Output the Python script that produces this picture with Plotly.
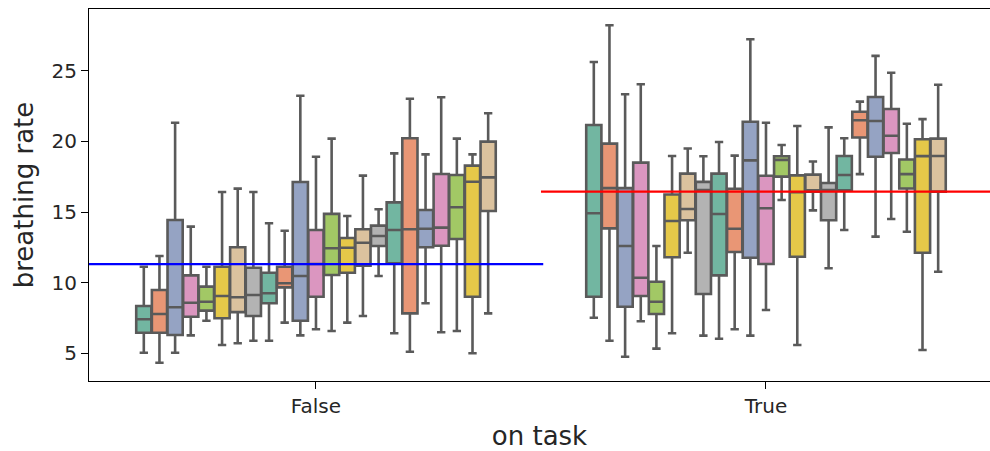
import colorsys
import plotly.graph_objects as go

categories = ["False", "True"]
participants = [str(i) for i in range(1, 24)]

# per-participant stats for on task == False
low_false = [5.04, 4.33, 5.04, 6.27, 7.31, 5.59, 5.71, 5.89, 5.89, 7.17, 6.27, 6.70,
             6.58, 7.17, 7.64, 10.47, 6.42, 5.11, 8.54, 6.49, 6.58, 5.00, 7.83]
q1_false = [6.46, 6.46, 6.30, 7.59, 8.02, 7.48, 7.92, 7.64, 8.54, 9.67, 7.31, 9.01,
            10.55, 10.71, 11.20, 12.60, 11.37, 7.83, 12.51, 12.62, 13.09, 9.01, 15.08]
med_false = [7.41, 7.78, 8.26, 8.58, 8.65, 9.06, 8.97, 9.13, 9.25, 9.96, 10.47, 11.32,
             12.44, 12.48, 12.83, 13.31, 13.73, 13.78, 13.82, 13.90, 15.34, 17.15, 17.46]
q3_false = [8.35, 9.48, 14.44, 10.52, 9.72, 11.13, 12.51, 11.06, 10.71, 11.13, 17.13, 13.73,
            14.87, 13.17, 13.78, 14.04, 15.69, 20.23, 15.15, 17.70, 17.63, 18.29, 19.99]
high_false = [11.13, 11.89, 21.33, 13.97, 11.13, 16.42, 16.66, 16.42, 14.21, 13.68, 23.24, 18.92,
              20.20, 14.72, 17.58, 15.20, 19.16, 23.03, 19.09, 23.13, 20.20, 19.09, 22.00]

# per-participant stats for on task == True
low_true = [7.52, 5.89, 4.76, 7.27, 5.33, 6.42, 12.12, 6.25, 6.03, 6.70, 6.25, 8.07,
            15.86, 5.59, 15.12, 11.02, 13.73, 17.69, 13.26, 14.51, 13.61, 5.23, 10.78]
q1_true = [9.01, 13.85, 8.30, 9.06, 7.78, 11.80, 14.42, 9.20, 10.52, 12.17, 11.77, 11.32,
           17.51, 11.84, 16.45, 14.42, 16.54, 20.28, 18.92, 19.18, 16.67, 12.12, 16.45]
med_true = [14.92, 16.70, 12.60, 10.35, 8.65, 14.37, 15.22, 16.56, 14.86, 13.82, 18.66, 15.27,
            18.70, 16.40, 16.55, 16.56, 17.63, 21.50, 21.45, 20.41, 17.69, 18.96, 18.97]
q3_true = [21.17, 19.85, 16.70, 18.50, 10.07, 16.25, 17.72, 17.14, 17.72, 16.65, 21.40, 17.57,
           18.95, 17.60, 17.65, 17.06, 18.97, 22.10, 23.15, 22.30, 18.72, 20.16, 20.20]
high_true = [25.63, 28.23, 23.34, 24.05, 12.60, 18.97, 19.50, 18.95, 19.96, 19.00, 27.24, 21.33,
             19.75, 21.10, 18.58, 21.00, 20.23, 22.82, 26.06, 24.87, 21.26, 21.58, 24.02]

mean_false = 11.32
mean_true = 16.45

y_ticks = [5, 10, 15, 20, 25]

set2 = ["#66c2a5", "#fc8d62", "#8da0cb", "#e78ac3", "#a6d854", "#ffd92f", "#e5c494", "#b3b3b3"]


def desaturate(hex_color, prop=0.75):
    r, g, b = (int(hex_color[i:i + 2], 16) / 255 for i in (1, 3, 5))
    h, l, s = colorsys.rgb_to_hls(r, g, b)
    r, g, b = colorsys.hls_to_rgb(h, l, s * prop)
    return "#%02x%02x%02x" % (round(r * 255), round(g * 255), round(b * 255))


palette = [desaturate(c) for c in set2]
edge = "#5a5a5a"

fig = go.Figure()
for i, p in enumerate(participants):
    fig.add_trace(go.Box(
        x=categories,
        q1=[q1_false[i], q1_true[i]],
        median=[med_false[i], med_true[i]],
        q3=[q3_false[i], q3_true[i]],
        lowerfence=[low_false[i], low_true[i]],
        upperfence=[high_false[i], high_true[i]],
        name=p,
        fillcolor=palette[i % len(palette)],
        line=dict(color=edge, width=2.6),
        whiskerwidth=0.55,
        boxpoints=False,
        hoverinfo="y",
        showlegend=False,
    ))

fig.add_shape(type="line", xref="x", yref="y", x0=-0.51, x1=0.505, y0=mean_false, y1=mean_false,
              line=dict(color="#0000ff", width=2.2), layer="above")
fig.add_shape(type="line", xref="x", yref="y", x0=0.5, x1=1.51, y0=mean_true, y1=mean_true,
              line=dict(color="#ff0000", width=2.2), layer="above")

font_family = "DejaVu Sans"
text_color = "#262626"
fig.update_layout(
    width=990, height=451,
    margin=dict(l=89, r=0, t=9, b=70),
    paper_bgcolor="white", plot_bgcolor="white",
    boxmode="group", boxgap=0.2, boxgroupgap=0.03,
    font=dict(family=font_family, color=text_color),
    showlegend=False,
)
fig.update_xaxes(
    type="category", range=[-0.5044, 1.4978],
    showline=True, linecolor="black", linewidth=1.2, mirror=True,
    ticks="outside", ticklen=7, tickwidth=1.2, tickcolor="black",
    tickfont=dict(size=20, family=font_family, color=text_color),
    title=dict(text="on task", font=dict(size=26, family=font_family, color=text_color), standoff=9),
    showgrid=False, zeroline=False,
)
fig.update_yaxes(
    range=[3.04, 29.38], tickvals=y_ticks,
    showline=True, linecolor="black", linewidth=1.2, mirror=False,
    ticks="outside", ticklen=7, tickwidth=1.2, tickcolor="black",
    tickfont=dict(size=20, family=font_family, color=text_color),
    title=dict(text="breathing rate", font=dict(size=26, family=font_family, color=text_color), standoff=10),
    showgrid=False, zeroline=False,
)

fig.write_html("out.html")
